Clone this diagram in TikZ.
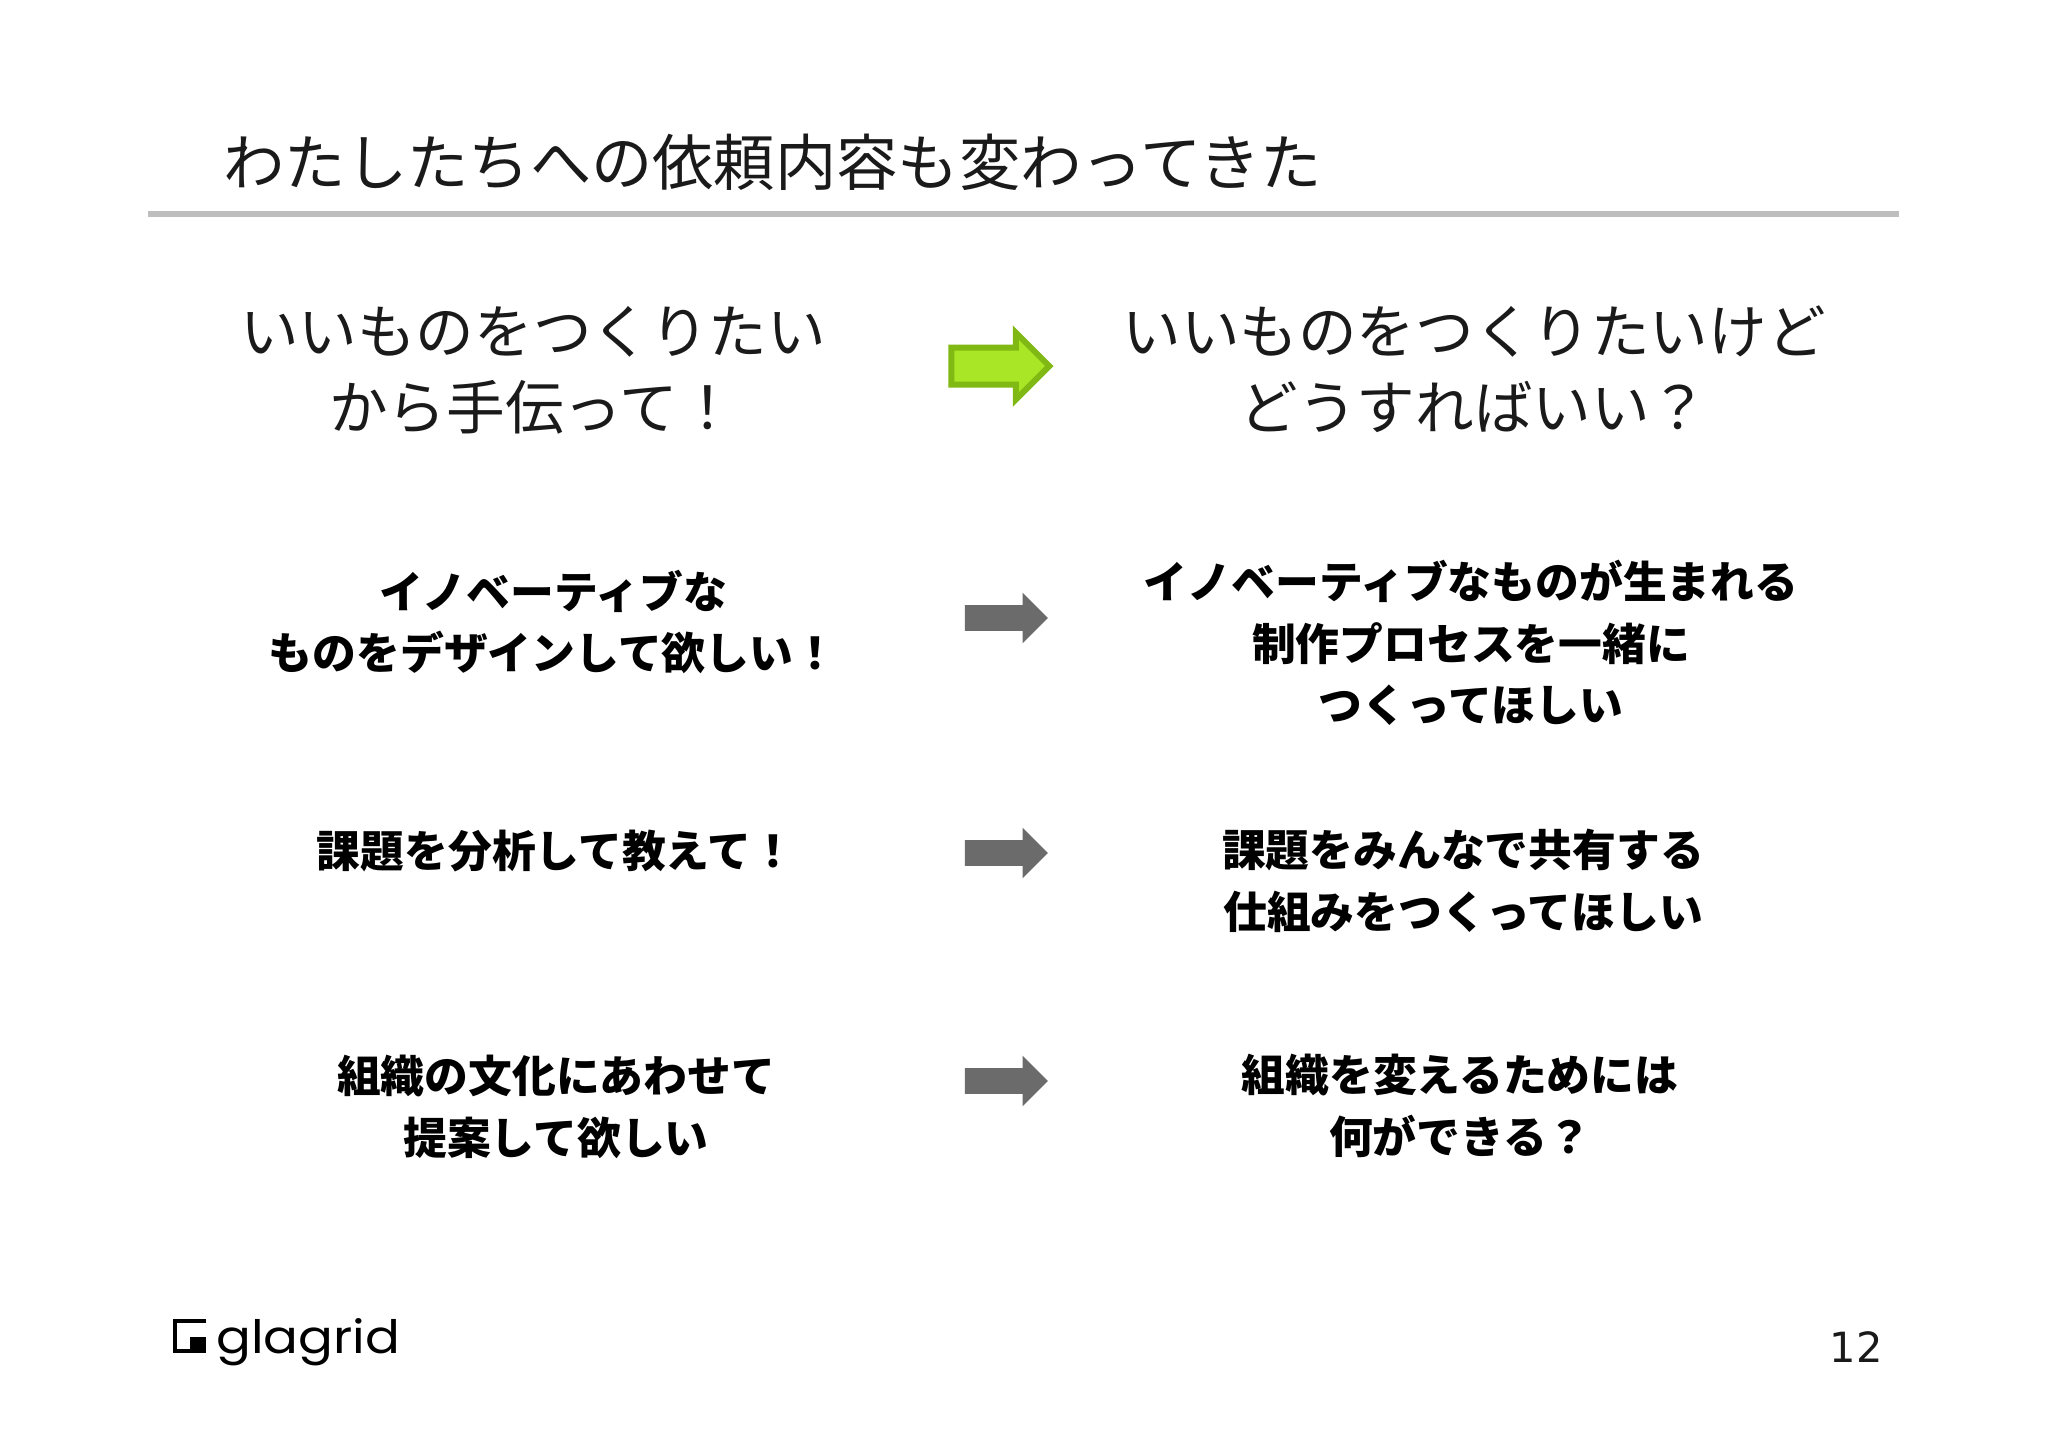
\documentclass[tikz,border=0pt]{standalone}
\usepackage{fontspec}
\usetikzlibrary{shapes.arrows}
\setmainfont{Noto Sans CJK JP}
\newfontfamily\logofont[FakeStretch = 1.12]{Poppins}
\newfontfamily\pagefont{DejaVu Sans}
\newlength{\unitpx}
\setlength{\unitpx}{0.5pt}
\definecolor{rulegray}{HTML}{BEBEBE}
\definecolor{textblack}{HTML}{1A1A1A}
\definecolor{leaf}{HTML}{A8E626}
\definecolor{leafdark}{HTML}{80B814}
\definecolor{slate}{HTML}{6B6B6B}
\tikzset{
    title/.style = {anchor = west, text = textblack, font = \fontsize{30.65pt}{36pt}\selectfont},
    lead/.style = {align = center, text = textblack, font = \fontsize{29.3pt}{38pt}\selectfont},
    item/.style = {align = center, text = black, font = \fontsize{21.9pt}{30.7pt}\selectfont\bfseries},
    bigarrow/.style = {single arrow, draw = leafdark, fill = leaf, line width = 3pt,
      text width = 0pt, text height = 31\unitpx, text depth = 0pt,
      minimum width = 61\unitpx, minimum height = 98\unitpx, inner sep = 0pt, outer sep = 0pt,
      single arrow head extend = 15\unitpx, single arrow head indent = 0pt},
    itemarrow/.style = {single arrow, fill = slate,
      text width = 0pt, text height = 25\unitpx, text depth = 0pt,
      minimum width = 50\unitpx, minimum height = 83\unitpx, inner sep = 0pt, outer sep = 0pt,
      single arrow head extend = 12.5\unitpx, single arrow head indent = 0pt}
}

\begin{document}
\begin{tikzpicture}[x = \unitpx, y = -\unitpx]
    \useasboundingbox[fill = white] (0, 0) rectangle (2048, 1447);

    \node[title] (heading) at (216.5, 162) {わたしたちへの依頼内容も変わってきた};
    \fill[rulegray] (148, 211) rectangle (1899, 217);

    \node[lead] (leadleft) at (533, 370) {いいものをつくりたい\\から手伝って！};
    \node[lead] (leadright) at (1474, 369) {いいものをつくりたいけど\\どうすればいい？};
    \node[bigarrow] (leadarrow) at (991, 366) {};

    \node[item] (innovleft) at (553, 622) {イノベーティブな\\ものをデザインして欲しい！};
    \node[item] (innovright) at (1471, 643) {イノベーティブなものが生まれる\\制作プロセスを一緒に\\つくってほしい};
    \node[itemarrow] (innovarrow) at (1000, 618) {};

    \node[item] (issueleft) at (556, 851) {課題を分析して教えて！};
    \node[item] (issueright) at (1463, 881) {課題をみんなで共有する\\仕組みをつくってほしい};
    \node[itemarrow] (issuearrow) at (1000, 853) {};

    \node[item] (cultureleft) at (556, 1107) {組織の文化にあわせて\\提案して欲しい};
    \node[item] (cultureright) at (1460, 1106) {組織を変えるためには\\何ができる？};
    \node[itemarrow] (culturearrow) at (1000, 1081) {};

    \draw[line width = 2.2pt] (206, 1321) -- (175.2, 1321) -- (175.2, 1351) -- (190, 1351);
    \fill (190, 1337) rectangle (206, 1353);
    \node[anchor = base west, inner sep = 0pt, font = \logofont\fontsize{23pt}{23pt}\selectfont] (logo) at (216, 1353) {glagrid};

    \node[text = textblack, font = \pagefont\fontsize{20.8pt}{24pt}\selectfont] (pagenum) at (1856, 1347) {12};
  \end{tikzpicture}
\end{document}
